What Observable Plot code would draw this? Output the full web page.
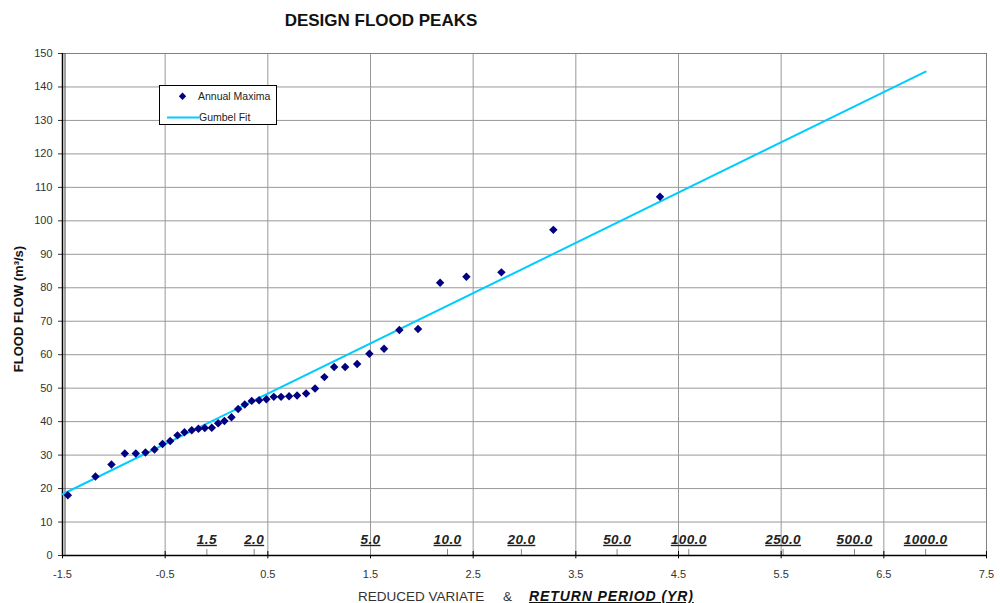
<!DOCTYPE html>
<html><head><meta charset="utf-8">
<script src="https://cdn.jsdelivr.net/npm/d3@7"></script>
<script src="https://cdn.jsdelivr.net/npm/@observablehq/plot@0.6"></script>
<style>
body{margin:0;background:#fff;font-family:"Liberation Sans",Arial,sans-serif;}
#wrap{position:relative;width:1000px;height:603px;overflow:hidden;}
#wrap > svg{position:absolute;left:0;top:0;}
.abs{position:absolute;white-space:nowrap;color:#000;}
</style></head><body><div id="wrap"></div>
<script>
// Axis ticks
const xTicks = [-1.5, -0.5, 0.5, 1.5, 2.5, 3.5, 4.5, 5.5, 6.5, 7.5];
const yTicks = [0, 10, 20, 30, 40, 50, 60, 70, 80, 90, 100, 110, 120, 130, 140, 150];

// Return period labels and their reduced-variate positions
const rpLabels = ["1.5", "2.0", "5.0", "10.0", "20.0", "50.0", "100.0", "250.0", "500.0", "1000.0"];
const rpX = [-0.094, 0.367, 1.500, 2.250, 2.970, 3.902, 4.600, 5.519, 6.214, 6.907];

// Annual maxima (reduced variate, flow m3/s)
const maxX = [-1.448, -1.179, -1.023, -0.893, -0.786, -0.692, -0.604, -0.526, -0.451, -0.380,
  -0.312, -0.241, -0.176, -0.114, -0.046, 0.016, 0.077, 0.146, 0.211, 0.275,
  0.343, 0.415, 0.486, 0.558, 0.629, 0.707, 0.785, 0.873, 0.960, 1.051,
  1.146, 1.253, 1.370, 1.489, 1.632, 1.781, 1.963, 2.178, 2.434, 2.775,
  3.281, 4.320];
const maxY = [18.0, 23.6, 27.2, 30.5, 30.5, 30.8, 31.7, 33.3, 34.2, 35.9,
  36.8, 37.4, 37.9, 38.1, 38.2, 39.5, 40.2, 41.3, 43.8, 45.1,
  46.2, 46.4, 46.7, 47.4, 47.4, 47.6, 47.8, 48.4, 49.9, 53.3,
  56.3, 56.3, 57.2, 60.3, 61.8, 67.4, 67.7, 81.5, 83.3, 84.6,
  97.3, 107.2];

// Gumbel fit line
const fitX = [-1.5, 6.907];
const fitY = [18.3, 144.6];

const points = maxX.map((x, i) => ({x, y: maxY[i]}));
const fit = fitX.map((x, i) => ({x, y: fitY[i]}));
const rp = rpX.map((x, i) => ({x, label: rpLabels[i]}));

const chart = Plot.plot({
  width: 1000, height: 603,
  marginLeft: 62, marginRight: 14, marginTop: 53, marginBottom: 48,
  style: {fontFamily: "Liberation Sans, Arial, sans-serif", fontSize: "11px", color: "#333", background: "transparent"},
  x: {domain: [-1.5, 7.5]},
  y: {domain: [0, 150]},
  marks: [
    Plot.gridX(xTicks, {stroke: "#999", strokeOpacity: 1}),
    Plot.gridY(yTicks, {stroke: "#999", strokeOpacity: 1}),
    Plot.frame({stroke: "#808080"}),
    Plot.axisY({ticks: yTicks, tickSize: 4, tickPadding: 6, tickFormat: d => String(d), label: null}),
    Plot.axisX({ticks: xTicks, tickSize: 0, tickPadding: 15, tickFormat: d => d.toFixed(1), label: null}),
    Plot.ruleX(xTicks, {x: d => d, y1: -1.0, y2: 1.2, stroke: "#000"}),
    Plot.ruleX(rpX, {x: d => d, y1: 0, y2: 1.8, stroke: "#888"}),
    Plot.ruleY([0], {stroke: "#000", strokeWidth: 1.5}),
    Plot.ruleX([-1.5], {stroke: "#000", strokeWidth: 1.5}),
    Plot.ruleX([-1.5], {stroke: "#444", dx: 2.5}),
    Plot.line(fit, {x: "x", y: "y", stroke: "#00CCFF", strokeWidth: 2}),
    Plot.dot(points, {x: "x", y: "y", symbol: "diamond2", r: 3.8, fill: "#000080", stroke: "none"}),
    Plot.text(rp, {x: "x", y: 0, text: "label", dy: -16, fontWeight: "bold", fontStyle: "italic",
      fontSize: 13.5, fill: "#222"})
  ]
});
const rpSet = new Set(rpLabels);
chart.querySelectorAll("text").forEach(t => {
  if (rpSet.has(t.textContent) && (t.closest("[font-style]") || t.getAttribute("font-style"))) {
    t.setAttribute("text-decoration", "underline");
    t.style.textDecoration = "underline";
    t.setAttribute("letter-spacing", "0.4");
  }
});

const wrap = document.getElementById("wrap");
wrap.appendChild(chart);

wrap.insertAdjacentHTML("beforeend", `
<div class="abs" style="left:181px;width:400px;top:11.5px;font-size:17px;line-height:17px;font-weight:bold;text-align:center;color:#111;">DESIGN FLOOD PEAKS</div>
<div class="abs" style="left:-81px;top:301px;width:200px;height:16px;font-size:13px;line-height:16px;font-weight:bold;text-align:center;transform:rotate(-90deg);transform-origin:center;color:#111;">FLOOD FLOW (m³/s)</div>
<div class="abs" style="left:358px;top:589.5px;font-size:13.5px;line-height:13.5px;color:#333;">REDUCED VARIATE</div>
<div class="abs" style="left:503px;top:589.5px;font-size:13.5px;line-height:13.5px;color:#333;">&amp;</div>
<div class="abs" style="left:529px;top:589px;font-size:14px;line-height:14px;font-weight:bold;font-style:italic;text-decoration:underline;letter-spacing:0.9px;color:#111;">RETURN PERIOD (YR)</div>
<div class="abs" style="left:159px;top:85px;width:118px;height:40px;border:1px solid #000;background:#fff;box-sizing:border-box;">
  <svg width="118" height="40" style="position:absolute;left:0;top:0;">
    <path d="M22.5,6.5 L26.2,10.2 L22.5,13.9 L18.8,10.2 Z" fill="#000080"/>
    <line x1="7" y1="31.5" x2="39" y2="31.5" stroke="#00CCFF" stroke-width="2"/>
  </svg>
  <div class="abs" style="left:38px;top:5px;font-size:10.5px;line-height:10.5px;color:#222;">Annual Maxima</div>
  <div class="abs" style="left:39px;top:26px;font-size:10.5px;line-height:10.5px;color:#222;">Gumbel Fit</div>
</div>
`);
</script></body></html>
